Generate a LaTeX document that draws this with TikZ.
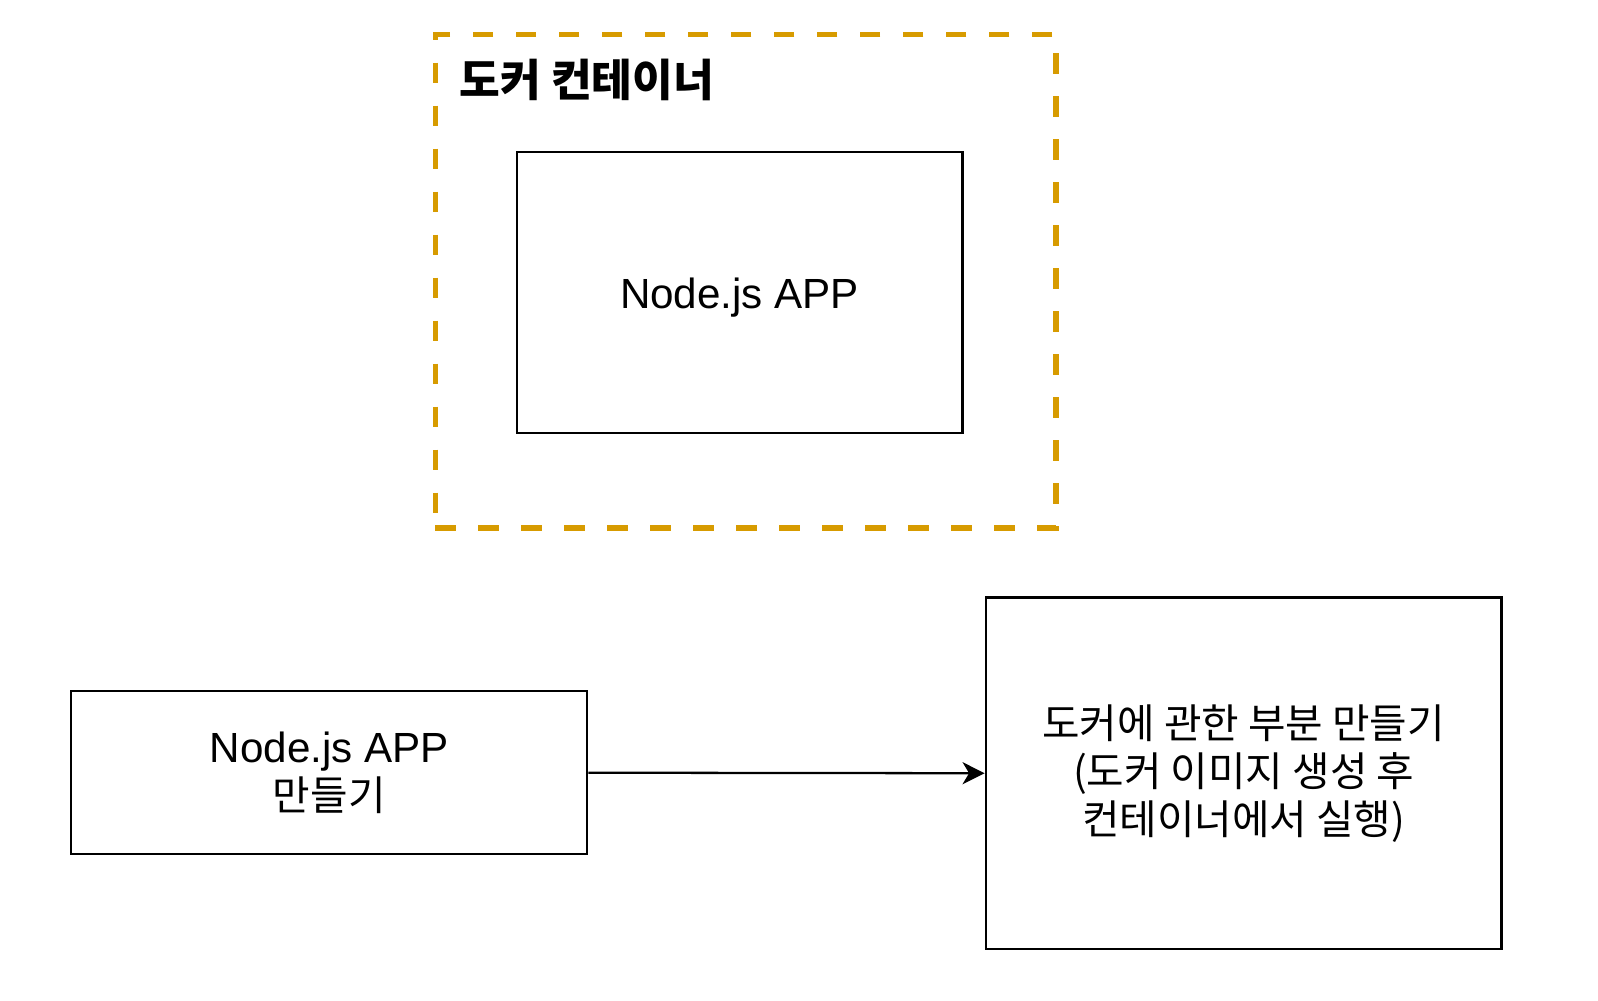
\documentclass[tikz,border=0pt]{standalone}
\usepackage{fontspec}
\setmainfont{Liberation Sans}
\newfontfamily\kr{Noto Sans CJK KR}
\newcommand{\krtext}[1]{{\kr\fontsize{11.6pt}{13.66pt}\selectfont #1}}
\usetikzlibrary{arrows.meta}
\definecolor{dockergold}{HTML}{D79B00}
\tikzset{
  box/.style={draw=black, line width=0.65pt, fill=white, inner sep=0pt, align=center,
    font=\fontsize{12pt}{13.66pt}\selectfont},
  container/.style={draw=dockergold, line width=1.5pt, dash pattern=on 0.205cm off 0.225cm, inner sep=0pt},
  conn/.style={draw=black, line width=0.65pt, -{Stealth[length=0.22cm,width=0.22cm,inset=0.065cm]}},
  title/.style={font=\kr\bfseries\fontsize{12.6pt}{15pt}\selectfont, anchor=west, inner sep=0pt}
}
\begin{document}
\begin{tikzpicture}[x=0.0101937cm,y=-0.0101937cm]
\useasboundingbox (0,0) rectangle (1567.6,981);
\node[container, minimum width=6.208cm, minimum height=4.934cm] (dock) at (731.5,276) {};
\node[title] (dtitle) at (450,78) {도커 컨테이너};
\node[box, minimum width=4.455cm, minimum height=2.814cm] (app) at (725.5,287) {\raisebox{-0.055cm}[\height][\depth]{Node.js APP}};
\node[box, minimum width=5.158cm, minimum height=1.631cm] (make) at (323,758) {Node.js APP\\\krtext{만들기}};
\node[box, minimum width=5.158cm, minimum height=3.517cm] (docker) at (1220,758.5) {\krtext{도커에 관한 부분 만들기}\\\krtext{(도커 이미지 생성 후}\\\krtext{컨테이너에서 실행)}};
\draw[conn] (make.east) -- (docker.west);
\end{tikzpicture}
\end{document}
